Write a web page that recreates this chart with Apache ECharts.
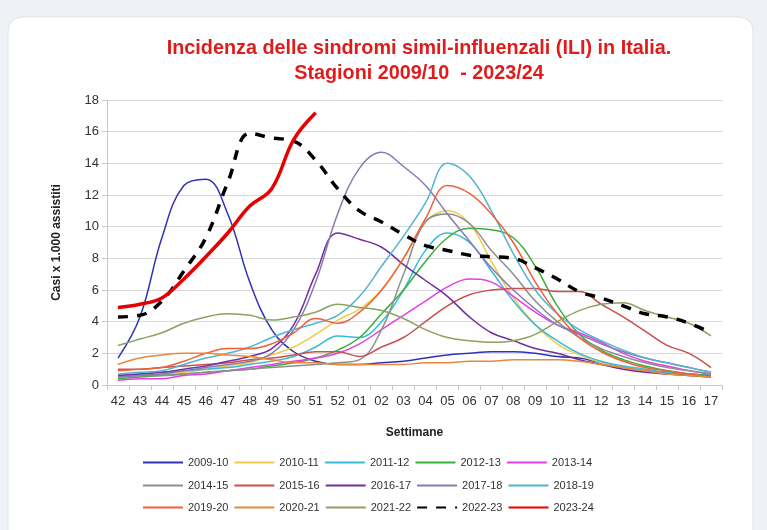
<!DOCTYPE html>
<html>
<head>
<meta charset="utf-8">
<script src="https://cdn.jsdelivr.net/npm/echarts@6/dist/echarts.min.js"></script>
<style>
  html, body { margin: 0; padding: 0; background: #eef2f6; }
  #myChart { width: 767px; height: 530px; }
</style>
</head>
<body>
<div id="myChart"></div>
<script>
// settimane (asse x)
var weeks = ['42', '43', '44', '45', '46', '47', '48', '49', '50', '51', '52', '01', '02', '03',
  '04', '05', '06', '07', '08', '09', '10', '11', '12', '13', '14', '15', '16', '17']

// incidenza per stagione (casi x 1.000 assistiti)
var s2009 = [1.7, 4.3, 9.3, 12.6, 13.0, 10.8, 6.5, 3.5, 2.1, 1.5, 1.3, 1.3, 1.4, 1.5, 1.7, 1.9, 2.0, 2.1, 2.1, 2.0, 1.8, 1.7, 1.4, 1.1, 0.9, 0.8, 0.7, 0.6]
var s2010 = [0.5, 0.6, 0.7, 0.8, 1.0, 1.2, 1.4, 1.9, 2.4, 3.2, 4.1, 4.8, 6.0, 8.0, 10.3, 11.0, 10.2, 7.8, 5.5, 3.8, 2.6, 1.9, 1.4, 1.1, 0.9, 0.7, 0.6, 0.5]
var s2011 = [0.6, 0.7, 0.8, 0.9, 1.0, 1.1, 1.3, 1.5, 1.8, 2.4, 3.1, 3.0, 4.0, 6.0, 8.5, 9.6, 9.0, 7.2, 5.3, 3.8, 2.8, 2.0, 1.5, 1.2, 1.0, 0.8, 0.7, 0.6]
var s2012 = [0.4, 0.5, 0.6, 0.7, 0.8, 0.9, 1.0, 1.2, 1.4, 1.7, 2.2, 3.0, 4.5, 6.0, 7.8, 9.3, 9.9, 9.8, 9.3, 7.5, 5.0, 3.2, 2.2, 1.6, 1.2, 0.9, 0.7, 0.6]
var s2013 = [0.3, 0.4, 0.4, 0.6, 0.7, 0.9, 1.1, 1.3, 1.5, 1.7, 2.0, 2.6, 3.5, 4.4, 5.3, 6.2, 6.7, 6.5, 5.6, 4.6, 3.8, 3.3, 2.7, 2.0, 1.5, 1.2, 0.9, 0.7]
var s2014 = [0.5, 0.6, 0.6, 0.7, 0.8, 0.9, 1.0, 1.1, 1.2, 1.3, 1.4, 1.6, 3.5, 7.0, 10.3, 10.8, 10.2, 8.5, 7.0, 5.3, 4.0, 3.0, 2.3, 1.8, 1.4, 1.1, 0.9, 0.7]
var s2015 = [1.0, 1.0, 1.1, 1.2, 1.3, 1.4, 1.6, 1.7, 1.9, 2.1, 2.1, 1.8, 2.4, 3.0, 4.0, 5.0, 5.7, 6.0, 6.1, 6.1, 5.9, 5.9, 5.1, 4.3, 3.4, 2.5, 2.0, 1.1]
var s2016 = [0.6, 0.7, 0.8, 1.0, 1.2, 1.5, 1.8, 2.3, 3.8, 7.0, 9.6, 9.2, 8.7, 7.6, 6.6, 5.6, 4.3, 3.3, 2.8, 2.3, 2.0, 1.6, 1.3, 1.0, 0.8, 0.7, 0.6, 0.5]
var s2017 = [0.5, 0.6, 0.7, 0.9, 1.1, 1.3, 1.5, 2.0, 3.5, 6.5, 10.8, 13.7, 14.7, 13.8, 12.6, 10.8, 9.1, 7.4, 6.0, 4.8, 3.8, 3.2, 2.6, 2.1, 1.7, 1.4, 1.1, 0.8]
var s2018 = [0.7, 0.8, 0.9, 1.3, 1.7, 2.0, 2.4, 3.0, 3.5, 3.9, 4.4, 5.6, 7.5, 9.4, 11.5, 14.0, 13.2, 11.0, 8.3, 6.0, 4.5, 3.5, 2.8, 2.2, 1.7, 1.4, 1.1, 0.8]
var s2019 = [0.9, 1.0, 1.1, 1.5, 2.0, 2.3, 2.3, 2.6, 3.3, 4.2, 3.9, 4.6, 6.0, 8.0, 10.5, 12.6, 12.1, 10.8, 9.0, 6.5, 4.5, 3.0, 2.1, 1.5, 1.1, 0.9, 0.7, 0.5]
var s2020 = [1.3, 1.7, 1.9, 2.0, 2.0, 1.9, 1.8, 1.6, 1.4, 1.4, 1.3, 1.3, 1.3, 1.3, 1.4, 1.4, 1.5, 1.5, 1.6, 1.6, 1.6, 1.5, 1.3, 1.1, 0.9, 0.7, 0.6, 0.5]
var s2021 = [2.5, 2.9, 3.3, 3.9, 4.3, 4.5, 4.4, 4.1, 4.3, 4.6, 5.1, 4.9, 4.7, 4.2, 3.5, 3.0, 2.8, 2.7, 2.8, 3.2, 4.0, 4.7, 5.1, 5.2, 4.7, 4.3, 3.9, 3.1]
var s2022 = [4.3, 4.4, 5.3, 7.2, 9.3, 12.8, 15.9, 15.6, 15.4, 14.2, 12.4, 11.0, 10.3, 9.5, 8.8, 8.5, 8.2, 8.1, 8.0, 7.4, 6.7, 5.9, 5.5, 5.0, 4.5, 4.3, 3.9, 3.3]
var s2023 = [4.9, 5.1, 5.5, 6.7, 8.1, 9.6, 11.3, 12.4, 15.5, 17.2]

var seasons = ['2009-10', '2010-11', '2011-12', '2012-13', '2013-14',
  '2014-15', '2015-16', '2016-17', '2017-18', '2018-19',
  '2019-20', '2020-21', '2021-22', '2022-23', '2023-24']
var values = [s2009, s2010, s2011, s2012, s2013, s2014, s2015, s2016, s2017, s2018, s2019, s2020, s2021, s2022, s2023]
var colors = ['#3232b4', '#f2c94c', '#36bcd8', '#3cae3c', '#e63ee6',
  '#8e8e8e', '#c8504d', '#7030a0', '#8a78b0', '#52b4d0',
  '#f0603a', '#e8883a', '#8aa262', '#000000', '#e60000']

var myChart = echarts.init(document.getElementById('myChart'))

var series = seasons.map(function (name, i) {
  var s = {
    name: name,
    type: 'line',
    data: values[i],
    smooth: 0.4,
    symbol: 'none',
    lineStyle: { color: colors[i], width: 1.5 },
    itemStyle: { color: colors[i] },
    z: 2
  }
  if (name === '2022-23') {
    s.lineStyle = { color: '#000', width: 3.5, type: [10, 9] }
    s.z = 3
  }
  if (name === '2023-24') {
    s.lineStyle = { color: '#e60000', width: 3.5 }
    s.z = 4
  }
  return s
})

function legendRow (idx, top) {
  return {
    top: top,
    left: 137,
    itemWidth: 40,
    itemHeight: 10,
    itemGap: 5,
    itemStyle: { opacity: 0 },
    textStyle: { fontFamily: 'Liberation Sans', fontSize: 11, color: '#333' },
    data: seasons.slice(idx, idx + 5)
  }
}

var option = {
  backgroundColor: '#eef2f6',
  animation: false,
  graphic: [{
    type: 'rect',
    z: -10,
    shape: { x: 8, y: 17, width: 745, height: 540, r: 14 },
    style: { fill: '#ffffff', stroke: '#dde3e9', lineWidth: 1 }
  }],
  title: {
    text: 'Incidenza delle sindromi simil-influenzali (ILI) in Italia.\nStagioni 2009/10  - 2023/24',
    left: 414,
    top: 31,
    textAlign: 'center',
    textStyle: {
      fontFamily: 'Liberation Sans',
      fontWeight: 'bold',
      fontSize: 19.8,
      lineHeight: 25,
      color: '#e01b1b'
    }
  },
  legend: [legendRow(0, 452), legendRow(5, 475), legendRow(10, 497)],
  grid: { left: 107, right: 45, top: 100, bottom: 145 },
  xAxis: {
    type: 'category',
    data: weeks,
    boundaryGap: true,
    name: 'Settimane',
    nameLocation: 'middle',
    nameGap: 42,
    nameTextStyle: { fontFamily: 'Liberation Sans', fontWeight: 'bold', fontSize: 12, color: '#222' },
    axisLine: { lineStyle: { color: '#c8c8c8' } },
    axisTick: { show: true, alignWithLabel: false, length: 5, lineStyle: { color: '#c8c8c8' } },
    axisLabel: { fontFamily: 'Liberation Sans', fontSize: 13, color: '#333', margin: 10, interval: 0 }
  },
  yAxis: {
    type: 'value',
    min: 0,
    max: 18,
    interval: 2,
    name: 'Casi x 1.000 assistiti',
    nameLocation: 'middle',
    nameGap: 44,
    nameTextStyle: { fontFamily: 'Liberation Sans', fontWeight: 'bold', fontSize: 12, color: '#222' },
    axisLine: { show: true, lineStyle: { color: '#c8c8c8' } },
    axisTick: { show: true, length: 5, lineStyle: { color: '#c8c8c8' } },
    axisLabel: { fontFamily: 'Liberation Sans', fontSize: 13, color: '#333', margin: 8 },
    splitLine: { lineStyle: { color: '#d9d9d9' } }
  },
  series: series
}

myChart.setOption(option)
</script>
</body>
</html>
